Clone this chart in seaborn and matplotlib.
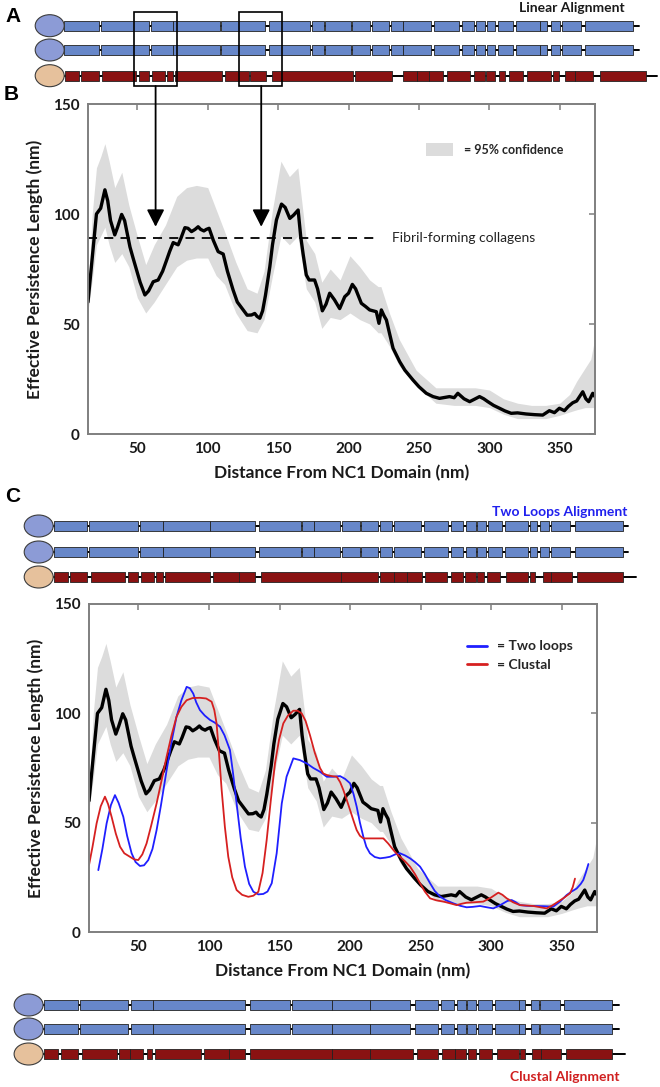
import matplotlib
matplotlib.use('Agg')
import matplotlib.pyplot as plt
import seaborn as sns
import pandas as pd
from matplotlib.patches import Ellipse, Rectangle, Patch
from matplotlib.lines import Line2D

# ---- data: average persistence length (black) and 95% band ----
dist = [15, 18, 21, 24, 27, 29, 31, 34, 36, 38.9, 41, 44.8, 47, 49.5, 52, 55.4, 58, 61.3,
        64.8, 68, 70.8, 73, 75.5, 79, 81, 83.8, 86, 88.5, 91, 93.2, 95, 97.3, 99, 101,
        104, 107.4, 111, 114, 118, 121, 125.2, 128, 131.1, 133.4, 135, 137, 139, 141,
        144.1, 146, 148.8, 152.4, 155, 158.3, 161, 164.2, 166, 167.7, 170, 172, 175.9,
        178, 181.4, 184, 186.6, 190, 193.7, 197.3, 200, 202.7, 205, 209.1, 212, 215,
        219.7, 221.6, 223.3, 225, 226.9, 229, 231.6, 236.3, 240, 245.8, 250, 255.2, 260,
        264.6, 271.7, 275, 277.6, 282, 286, 290, 293, 296, 298.9, 303, 307.2, 311, 315.5,
        320, 326.1, 332, 337.9, 342.6, 346.2, 349.7, 353.3, 356, 359.2, 362, 366.3,
        368.5, 370.5, 373.4, 375]
persist = [60, 80, 100, 102.6, 111, 106, 97, 90.5, 94, 99.8, 97, 85, 80, 74.5, 69, 63.2, 65,
           69.2, 70, 74, 79, 83, 87, 86, 89, 93.8, 93.5, 92, 93, 94.2, 93, 92.3, 93, 93.5,
           88, 82.9, 81.8, 74, 65.5, 60, 56.4, 54, 54.1, 54.8, 53.5, 52.6, 56, 63, 76, 86,
           97.3, 104.5, 103, 98, 99.5, 101.8, 90, 82, 72.3, 70, 70, 66, 56, 59, 64, 61, 57,
           62.4, 64, 68, 66, 59.4, 58, 56.4, 55.6, 50.3, 56.4, 54, 51.8, 46, 39, 32.9, 29,
           24.5, 21.5, 18.5, 17, 16.2, 17, 16.5, 18.5, 16, 14.7, 16, 17, 16, 14.7, 13, 11.7,
           10.5, 9.4, 9.6, 9.1, 8.8, 8.6, 10.6, 9.7, 11.7, 10.6, 12.5, 14.2, 15, 19.2, 16,
           14.7, 18.5, 17]

band_x = [15, 18, 21, 24, 27, 30, 34, 39, 44, 50, 56, 62, 70, 78, 85, 92, 100, 106, 112,
          120, 128, 135, 140, 146, 152, 158, 164, 170, 176, 181, 187, 194, 201, 208, 215,
          221, 223, 229, 236, 248, 262, 275, 290, 300, 310, 320, 330, 340, 350, 357, 362,
          368, 372, 375]
band_hi = [64, 100, 121, 126, 132, 124, 112, 119, 104, 90, 77, 86, 95, 108, 112, 113, 112,
           102, 92, 78, 66, 64, 74, 102, 124, 117, 121, 88, 82, 69, 75, 70, 81, 76, 70, 67,
           67, 55, 43, 29, 21, 21, 21, 20, 16, 14, 13, 13, 14, 18, 24, 30, 34, 44]
band_lo = [56, 70, 86, 90, 94, 86, 78, 82, 76, 62, 55, 60, 68, 76, 79, 80, 80, 72, 68, 55,
           47, 46, 52, 72, 90, 86, 90, 66, 60, 48, 53, 52, 55, 52, 50, 46, 46, 40, 31, 22,
           14, 13, 13, 12, 9, 7, 7, 7, 8.5, 10, 11, 12, 12, 12]

# ---- predicted curves for the two alignments ----
loops_x = [21.6, 24.5, 27.5, 30.5, 33.4, 36, 39.3, 42, 45.2, 48, 51.1, 54, 57, 60, 62.9, 66,
           70, 73.5, 77, 80.5, 84.2, 86.5, 88.9, 91, 93.6, 97, 100.7, 104, 107.8, 111, 114.9,
           117, 119.6, 122.5, 125.5, 128.5, 131.5, 135, 138.5, 141.5, 144.5, 148, 151.6,
           155, 159.8, 164.5, 169.3, 174, 178.7, 183.5, 188, 192.9, 196.5, 200, 202.5,
           204.7, 207, 209.4, 211.5, 214.1, 217.5, 221.2, 225, 228.3, 232, 235.4, 239,
           242.5, 246, 249.6, 253, 256.7, 260, 263.8, 268, 273.2, 278, 282.6, 287, 292.1,
           297, 301.5, 305, 308.6, 311.5, 314.5, 317.5, 320.4, 325, 329.8, 337, 344, 349,
           353.5, 357, 360.6, 363.5, 365.3, 367, 368.9]
loops_y = [28.3, 38, 49.7, 58, 62.6, 59, 52.7, 44, 36, 32, 30.2, 30.5, 32.9, 38, 46.6, 58,
           74, 87, 98.4, 106, 112.1, 111.5, 109, 105, 101.5, 99, 97, 95.8, 93.9, 90, 83.2,
           73, 58.8, 43, 29.9, 22, 18.4, 17.2, 17.4, 18.5, 22.3, 36, 58.8, 71, 79.4, 78.6,
           77.1, 75, 73.3, 71, 71, 71.3, 70, 68, 63, 57.3, 50, 43.6, 39, 36, 34.3, 33.7, 34,
           34.4, 35.5, 36, 35, 33.7, 32, 29.9, 26.5, 22.3, 18.8, 16.2, 14.5, 13.1, 12, 11.3,
           11.5, 11.9, 11.3, 10.8, 11.8, 13.1, 14.2, 14.6, 13.6, 12.3, 12, 11.9, 11.8, 11.6,
           14, 16.9, 18.5, 19.9, 22, 23.8, 27, 31.1]

clustal_x = [15, 17.5, 20.4, 23.3, 26.3, 28.5, 31, 34, 37, 40, 44, 47, 49.9, 52.8, 55.8, 59,
             62.9, 66.5, 70, 73.5, 77, 80.5, 84.2, 88.5, 93.6, 98, 101.9, 103.8, 105.4,
             107.2, 109, 111.3, 113.7, 116.5, 119.6, 123.5, 127.9, 131.5, 135, 138, 140.9,
             143.8, 146.8, 149.7, 152.7, 156, 159.8, 162.7, 165.7, 168.5, 171.6, 175, 178.7,
             181, 183.5, 187, 190.6, 193, 195.2, 197.6, 200, 202.4, 204.7, 207, 209.4, 216,
             223.6, 227, 230.7, 233, 235.4, 239, 242.5, 246, 249.6, 253, 256.7, 261, 266.2,
             271, 275.5, 279, 282.6, 288, 294.4, 300, 305.1, 308, 311, 315.5, 320.4, 325,
             329.8, 335, 339.3, 343.5, 347.5, 352, 355.9, 357.8, 359.4]
clustal_y = [30.6, 39, 49.7, 57.5, 61.9, 58.5, 52.7, 45, 39, 36, 34.4, 33.2, 32.9, 35.5,
             40.5, 48.5, 58.8, 69.5, 80.2, 90, 98.4, 103, 106, 107, 107.1, 106.8, 105.3,
             101.5, 95.4, 81, 65, 48, 34.4, 25, 19.2, 17, 16.1, 16.6, 18.4, 27, 42, 60, 77.1,
             88, 95.4, 99, 101.2, 101.2, 100, 96.5, 90, 82, 75, 72.5, 71.8, 71.3, 71, 68.5,
             65, 60.5, 55.8, 51, 46.6, 44, 42.8, 42.8, 42.8, 40.5, 37.5, 35.8, 34.4, 32.3,
             29.9, 26.5, 22.3, 18.5, 15.4, 14.5, 13.9, 13.1, 12.3, 12.9, 13.4, 13.6, 13.9,
             15.8, 18, 17, 15.4, 13.6, 12.3, 12.1, 11.9, 11.3, 10.8, 12.2, 13.9, 15.8, 17.7,
             20.5, 24.4]

fibril_level = 89
arrow_targets = [63, 138]
x_ticks = [50, 100, 150, 200, 250, 300, 350]
y_ticks = [0, 50, 100, 150]

# ---- domain schematics (segment start/end along the chain) ----
lin_blue = [(64, 98.9), (100.6, 149.4), (150.7, 172.6), (172.6, 219.7), (221, 265.2),
            (269.4, 310.2), (312.3, 324.1), (324.9, 350.6), (352.3, 370.4), (371.6, 389.3),
            (391.4, 403.2), (403.2, 431.4), (434.3, 458.8), (461.7, 473.5), (476.4, 485.3),
            (487.4, 495.4), (497.5, 512.6), (515.6, 540), (540, 547.1), (551.3, 559.8),
            (561.9, 580.8), (585, 633.4)]
lin_red = [(65.2, 79.1), (81.2, 98.9), (102.3, 135.5), (138.9, 149.4), (151.5, 165),
           (167.1, 173.4), (174.7, 221.8), (225.2, 249.2), (249.6, 266), (271.5, 352.7),
           (354.8, 392.3), (403.2, 416.7), (416.7, 429.3), (429.3, 442.8), (447, 470.1),
           (473.5, 485.3), (486.1, 495.4), (498.7, 505), (509.3, 522.7), (527.4, 550.5),
           (552.6, 558.5), (565.2, 574.5), (574.5, 593.4), (599.7, 646)]
loop_blue = [(53.9, 87.1), (89.2, 137.6), (139.7, 162.5), (162.5, 209.6), (210.4, 254.6),
             (258.8, 300.9), (301.8, 313.6), (314.4, 340.1), (341.8, 359.8), (361.1, 378),
             (380.1, 392.3), (393.5, 420.9), (424.2, 448.2), (451.2, 463), (466.3, 475.6),
             (476.8, 486.1), (488.2, 501.7), (505.1, 528.2), (529.5, 536.6), (540, 549.2),
             (550.5, 570.3), (574.5, 622.9)]
loop_red = [(53.9, 68.2), (70.3, 87.1), (90.5, 125.4), (127.5, 137.6), (141, 153.6),
            (155.7, 163.3), (165, 210.4), (213.4, 239.1), (239.1, 254.6), (260.9, 340.9),
            (340.9, 378), (380.1, 393.5), (394.4, 407.4), (407.4, 421.7), (425.1, 447),
            (451.2, 463), (465.1, 475.6), (476.8, 484), (487.4, 500), (505.9, 528.2),
            (529.5, 535.4), (542.9, 551.3), (551.3, 571.5), (576.6, 622.9)]
clu_blue = [(44.2, 77.9), (80, 128.4), (130.5, 152.8), (152.8, 245), (250.4, 290.4),
            (291.7, 331.6), (331.6, 369.5), (369.5, 410.4), (414.6, 437.7), (441.1, 453.7),
            (456.6, 466.3), (467.2, 476.4), (478.1, 492.4), (494.9, 518.5), (518.5, 525.3),
            (531.2, 538.7), (540, 559.8), (564, 612.4)]
clu_red = [(44.2, 58.1), (61, 77.9), (82.1, 117), (119.1, 129.6), (129.6, 143.1),
           (146.5, 152.4), (154.9, 201.2), (204.1, 229.4), (229.4, 245), (250.4, 331.6),
           (331.6, 370.4), (370.4, 412.5), (416.7, 437.7), (441.9, 455.4), (455.4, 466.3),
           (468, 475.6), (479, 491.6), (496.6, 518.5), (519.8, 525.3), (532.4, 540.8),
           (540.8, 560.6), (566.1, 612.4)]

BLUE_SEG = '#6787c9'
RED_SEG = '#8a1212'
BLUE_BALL = '#8c9bd6'
TAN_BALL = '#e6c19c'
BAND = '#dcdcdc'
SPINE = '#7f7f7f'

sns.set_theme(style='white')
plt.rcParams['font.family'] = ['Lato', 'DejaVu Sans']

fig = plt.figure(figsize=(6.6, 10.87), dpi=100)
W, H = 660.0, 1087.0


def px_axes(left, top, right, bottom):
    return fig.add_axes([left / W, 1 - bottom / H, (right - left) / W, (bottom - top) / H])


curve = pd.DataFrame({'dist': dist, 'persist': persist})
loops = pd.DataFrame({'dist': loops_x, 'persist': loops_y})
clustal = pd.DataFrame({'dist': clustal_x, 'persist': clustal_y})


def style_axes(ax):
    ax.set_xlim(15, 375)
    ax.set_ylim(0, 150)
    ax.set_xticks(x_ticks)
    ax.set_yticks(y_ticks)
    for s in ax.spines.values():
        s.set_visible(True)
        s.set_color(SPINE)
        s.set_linewidth(1.4)
    ax.tick_params(direction='in', length=4.5, width=1.1, color=SPINE,
                   top=True, right=True, labelsize=11, pad=6)
    for lab in ax.get_xticklabels() + ax.get_yticklabels():
        lab.set_fontweight('bold')
        lab.set_color('#1a1a1a')
    ax.set_xlabel('Distance From NC1 Domain (nm)', fontsize=12.5, fontweight='bold',
                  color='#1a1a1a', labelpad=6)
    ax.set_ylabel('Effective Persistence Length (nm)', fontsize=12.5, fontweight='bold',
                  color='#1a1a1a', labelpad=7)


# ---- panel B ----
axB = px_axes(88, 104, 595, 434)
axB.fill_between(band_x, band_lo, band_hi, color=BAND, lw=0)
sns.lineplot(data=curve, x='dist', y='persist', ax=axB, color='black', lw=2.4,
             sort=False, estimator=None)
axB.plot([15, 218], [fibril_level, fibril_level], color='black', lw=1.3, ls=(0, (5, 4)))
axB.text(231, fibril_level, 'Fibril-forming collagens', fontsize=10, va='center',
         color='#222222')
style_axes(axB)
axB.legend(handles=[Patch(facecolor=BAND, edgecolor='none', label='= 95% confidence')],
           loc='upper left', bbox_to_anchor=(0.655, 0.9), frameon=False, borderpad=0,
           handlelength=2.1, handleheight=1.2, handletextpad=0.9,
           prop={'weight': 'bold', 'size': 9})

# ---- panel C ----
axC = px_axes(89, 604, 597, 932)
axC.fill_between(band_x, band_lo, band_hi, color=BAND, lw=0)
sns.lineplot(data=curve, x='dist', y='persist', ax=axC, color='black', lw=2.4,
             sort=False, estimator=None)
sns.lineplot(data=loops, x='dist', y='persist', ax=axC, color='#1f1fff', lw=1.3,
             sort=False, estimator=None)
sns.lineplot(data=clustal, x='dist', y='persist', ax=axC, color='#d62020', lw=1.3,
             sort=False, estimator=None)
style_axes(axC)
axC.legend(handles=[Line2D([], [], color='#1f1fff', lw=2, label='= Two loops'),
                    Line2D([], [], color='#d62020', lw=2, label='= Clustal')],
           loc='upper left', bbox_to_anchor=(0.73, 0.91), frameon=False, borderpad=0,
           handlelength=1.45, handletextpad=0.7, labelspacing=0.45,
           prop={'weight': 'bold', 'size': 10})

# ---- overlay in pixel units for schematics, labels and arrows ----
ov = fig.add_axes([0, 0, 1, 1], zorder=10)
ov.set_xlim(0, W)
ov.set_ylim(H, 0)
ov.axis('off')
ov.patch.set_alpha(0)


def draw_row(y, segs, face, ball, ball_x, end_x):
    ov.plot([ball_x, end_x], [y, y], color='black', lw=1.4, zorder=1)
    ov.broken_barh([(a, b - a) for a, b in segs], (y - 5, 10), facecolors=face,
                   edgecolor='#222222', linewidth=0.6, zorder=2)
    ov.add_patch(Ellipse((ball_x, y), 29, 22, facecolor=ball, edgecolor='#3c3c3c',
                         lw=0.8, zorder=3))


draw_row(25.7, lin_blue, BLUE_SEG, BLUE_BALL, 49.7, 639)
draw_row(50, lin_blue, BLUE_SEG, BLUE_BALL, 49.7, 639)
draw_row(75.7, lin_red, RED_SEG, TAN_BALL, 49.7, 656.6)

draw_row(526, loop_blue, BLUE_SEG, BLUE_BALL, 38.7, 628.4)
draw_row(552, loop_blue, BLUE_SEG, BLUE_BALL, 38.7, 628.4)
draw_row(577, loop_red, RED_SEG, TAN_BALL, 38.7, 635.6)

draw_row(1005, clu_blue, BLUE_SEG, BLUE_BALL, 28.6, 618.7)
draw_row(1029, clu_blue, BLUE_SEG, BLUE_BALL, 28.6, 618.7)
draw_row(1054, clu_red, RED_SEG, TAN_BALL, 28.6, 625)

# boxes over panel A and arrows down to panel B
for bx in [133.8, 239]:
    ov.add_patch(Rectangle((bx, 11.7), 43, 74.3, fill=False, edgecolor='black', lw=1.2,
                           zorder=4))
for xt in arrow_targets:
    tip = axB.transData.transform((xt, 94.2))
    tip = ov.transData.inverted().transform(tip)
    ov.annotate('', xy=(tip[0], tip[1]), xytext=(tip[0], 86),
                arrowprops=dict(arrowstyle='-|>,head_length=0.55,head_width=0.28',
                                lw=1.3, color='black', mutation_scale=19,
                                shrinkA=0, shrinkB=0))

lett = dict(fontsize=15, fontweight='bold', family=['Liberation Sans', 'DejaVu Sans'],
            va='center', ha='left', color='black')
ov.text(5, 16, 'A', **lett)
ov.text(4, 95, 'B', **lett)
ov.text(5, 497, 'C', **lett)

ov.text(625, 8, 'Linear Alignment', fontsize=10, fontweight='bold', ha='right',
        va='center', color='#1a1a1a')
ov.text(627, 512, 'Two Loops Alignment', fontsize=10, fontweight='bold', ha='right',
        va='center', color='#2020ee')
ov.text(619, 1077, 'Clustal Alignment', fontsize=10, fontweight='bold', ha='right',
        va='center', color='#d02020')

fig.savefig('out.png', dpi=100)
